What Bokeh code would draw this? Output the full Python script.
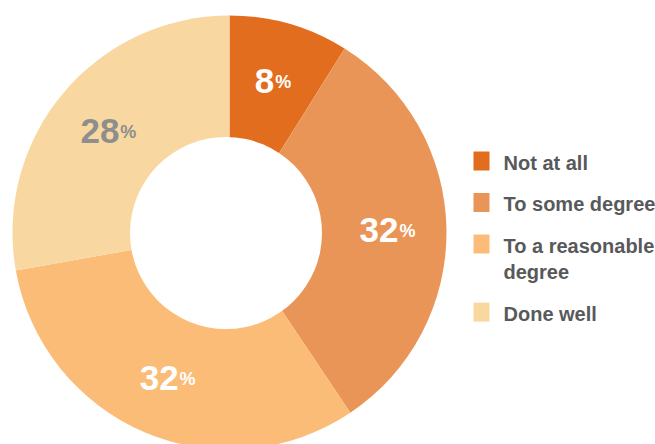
import numpy as np
from bokeh.plotting import figure
from bokeh.models import Range1d, ColumnDataSource
from bokeh.core.properties import value
from bokeh.embed import file_html
from bokeh.resources import INLINE

# ---- data ----
categories = ["Not at all", "To some degree", "To a reasonable degree", "Done well"]
legend_lines = [["Not at all"], ["To some degree"], ["To a reasonable", "degree"], ["Done well"]]
shares = [8.9, 31.7, 31.6, 27.8]
pct_labels = ["8", "32", "32", "28"]
colors = ["#E36D1F", "#EA9558", "#FBBC78", "#F8D8A0"]
label_colors = ["#FFFFFF", "#FFFFFF", "#FFFFFF", "#8E8E8E"]

# ---- layout ----
W, H = 655, 444
FONT = "Liberation Sans"
cx, cy = 229.0, H - 232.0
R_OUT = 217
HOLE_X, HOLE_Y, R_IN = 225.5, H - 232.5, 96
R_LABEL = 158
BASE_FIX = 0.35  # em shift to place alphabetic baseline where intended

frac = np.array(shares, dtype=float) / sum(shares)
cum = np.cumsum(frac)
starts = np.concatenate([[0.0], cum[:-1]])
start_angle = np.pi / 2 - 2 * np.pi * starts
end_angle = np.pi / 2 - 2 * np.pi * cum

p = figure(width=W, height=H, output_backend="svg", toolbar_location=None,
           x_range=Range1d(0, W), y_range=Range1d(0, H),
           min_border=0, min_border_left=0, min_border_right=0,
           min_border_top=0, min_border_bottom=0)
p.axis.visible = False
p.grid.visible = False
p.outline_line_color = None
p.background_fill_color = "white"
p.border_fill_color = "white"

src = ColumnDataSource(dict(cat=categories, start=start_angle, end=end_angle, color=colors))
p.wedge(x=cx, y=cy, radius=R_OUT, start_angle="start", end_angle="end",
        direction="clock", fill_color="color", line_color=None, source=src)
p.circle(x=[HOLE_X], y=[HOLE_Y], radius=R_IN, fill_color="white", line_color=None)

# percentage labels
DIG_FS, PCT_FS = 35, 18
mid = 2 * np.pi * (starts + cum) / 2
lx = cx + R_LABEL * np.sin(mid)
ly = cy + R_LABEL * np.cos(mid)
DIG_W, PCT_W, GAP = 0.556 * DIG_FS, 16.0, 1.0
num_x, pct_x = [], []
for x0, lab in zip(lx, pct_labels):
    total = DIG_W * len(lab) + GAP + PCT_W
    left = x0 - total / 2
    num_x.append(left + DIG_W * len(lab))
    pct_x.append(left + DIG_W * len(lab) + GAP)
base_y = ly - 12.5 + BASE_FIX * DIG_FS
pct_y = ly - 12.5 + 5 + BASE_FIX * PCT_FS
p.text(x=num_x, y=base_y, text=pct_labels, text_color=label_colors,
       text_font=value(FONT), text_font_style="bold", text_font_size=f"{DIG_FS}px",
       text_align="right", text_baseline="alphabetic")
p.text(x=pct_x, y=pct_y, text=["%"] * len(pct_labels), text_color=label_colors,
       text_font=value(FONT), text_font_style="bold", text_font_size=f"{PCT_FS}px",
       text_align="left", text_baseline="alphabetic")

# legend
LEG_FS = 20
LEG_X, LEG_TOP, ROW_GAP, LINE_H = 481, 160.5, 41.5, 26.6
rect_y, txt_x, txt_y, txt = [], [], [], []
yy = LEG_TOP
for lines in legend_lines:
    rect_y.append(H - yy)
    for k, line in enumerate(lines):
        txt_x.append(LEG_X + 22)
        txt_y.append(H - (yy + 8.8 + k * LINE_H) + BASE_FIX * LEG_FS)
        txt.append(line)
    yy += ROW_GAP + LINE_H * (len(lines) - 1)
p.rect(x=LEG_X, y=rect_y, width=16, height=19, fill_color=colors, line_color=None)
p.text(x=txt_x, y=txt_y, text=txt, text_color="#58595B", text_font=value(FONT),
       text_font_style="bold", text_font_size=f"{LEG_FS}px", text_align="left",
       text_baseline="alphabetic")

open("out.html", "w").write(file_html(p, INLINE))
